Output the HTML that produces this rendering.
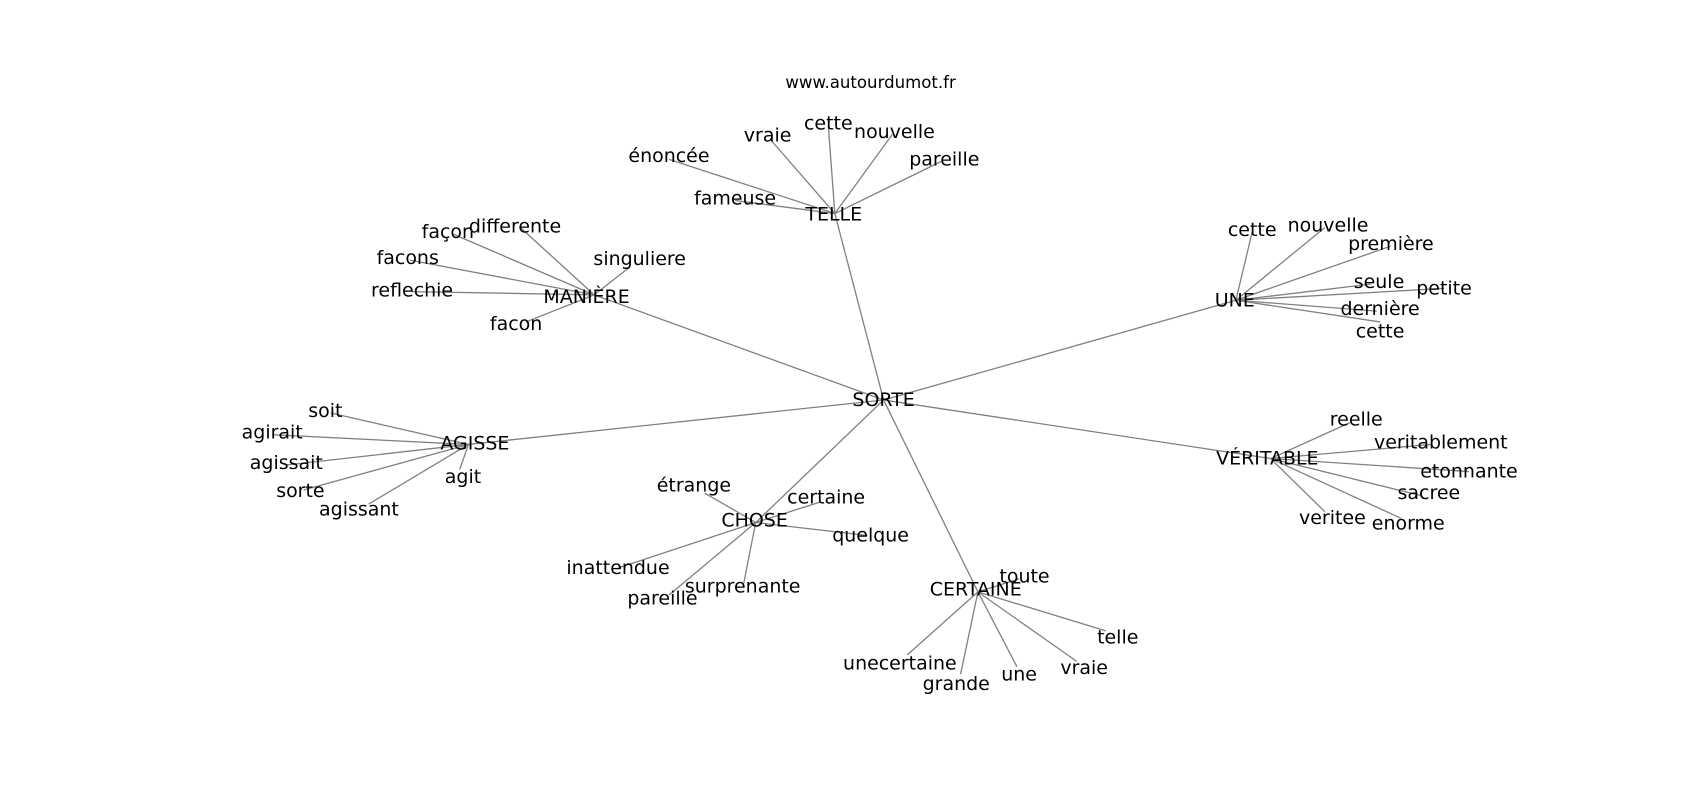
<!DOCTYPE html>
<html><head><meta charset="utf-8"><style>
html,body{margin:0;padding:0;background:#fff;}
svg{display:block}
text{font-family:"DejaVu Sans","Liberation Sans",sans-serif;font-size:17.5px;fill:#000;text-anchor:middle;dominant-baseline:central}
line{stroke:#808080;stroke-width:1.2}
</style></head><body>
<svg width="1700" height="800" viewBox="0 0 1568 738" xmlns="http://www.w3.org/2000/svg">
<text x="803" y="76" style="font-size:15.3px">www.autourdumot.fr</text>
<g>
<line x1="815" y1="369" x2="770" y2="197"/>
<line x1="815" y1="369" x2="548" y2="272"/>
<line x1="815" y1="369" x2="1140" y2="277"/>
<line x1="815" y1="369" x2="1172" y2="423"/>
<line x1="815" y1="369" x2="432" y2="410"/>
<line x1="815" y1="369" x2="697" y2="482"/>
<line x1="815" y1="369" x2="902" y2="546"/>
<line x1="770" y1="197" x2="617" y2="147"/>
<line x1="770" y1="197" x2="710" y2="128"/>
<line x1="770" y1="197" x2="764" y2="116"/>
<line x1="770" y1="197" x2="823" y2="124"/>
<line x1="770" y1="197" x2="868" y2="149"/>
<line x1="770" y1="197" x2="678" y2="185"/>
<line x1="548" y1="272" x2="480" y2="210"/>
<line x1="548" y1="272" x2="418" y2="216"/>
<line x1="548" y1="272" x2="378" y2="240"/>
<line x1="548" y1="272" x2="380" y2="269"/>
<line x1="548" y1="272" x2="580" y2="247"/>
<line x1="548" y1="272" x2="485" y2="297"/>
<line x1="1140" y1="277" x2="1155" y2="214"/>
<line x1="1140" y1="277" x2="1222" y2="210"/>
<line x1="1140" y1="277" x2="1283" y2="227"/>
<line x1="1140" y1="277" x2="1265" y2="262"/>
<line x1="1140" y1="277" x2="1332" y2="266"/>
<line x1="1140" y1="277" x2="1270" y2="287"/>
<line x1="1140" y1="277" x2="1273" y2="297"/>
<line x1="1172" y1="423" x2="1245" y2="390"/>
<line x1="1172" y1="423" x2="1320" y2="410"/>
<line x1="1172" y1="423" x2="1355" y2="435"/>
<line x1="1172" y1="423" x2="1310" y2="457"/>
<line x1="1172" y1="423" x2="1222" y2="472"/>
<line x1="1172" y1="423" x2="1292" y2="478"/>
<line x1="432" y1="410" x2="305" y2="381"/>
<line x1="432" y1="410" x2="251" y2="401"/>
<line x1="432" y1="410" x2="264" y2="429"/>
<line x1="432" y1="410" x2="280" y2="452"/>
<line x1="432" y1="410" x2="340" y2="465"/>
<line x1="432" y1="410" x2="424" y2="433"/>
<line x1="697" y1="482" x2="650" y2="455"/>
<line x1="697" y1="482" x2="757" y2="463"/>
<line x1="697" y1="482" x2="800" y2="494"/>
<line x1="697" y1="482" x2="570" y2="524"/>
<line x1="697" y1="482" x2="617" y2="549"/>
<line x1="697" y1="482" x2="686" y2="538"/>
<line x1="902" y1="546" x2="940" y2="534"/>
<line x1="902" y1="546" x2="1020" y2="582"/>
<line x1="902" y1="546" x2="993" y2="610"/>
<line x1="902" y1="546" x2="938" y2="615"/>
<line x1="902" y1="546" x2="886" y2="622"/>
<line x1="902" y1="546" x2="837" y2="604"/>
</g>
<g>
<text x="815" y="369">SORTE</text>
<text x="769" y="198">TELLE</text>
<text x="617" y="144">énoncée</text>
<text x="708" y="125">vraie</text>
<text x="764" y="114">cette</text>
<text x="825" y="122">nouvelle</text>
<text x="871" y="147">pareille</text>
<text x="678" y="183">fameuse</text>
<text x="541" y="274">MANIÈRE</text>
<text x="475" y="209">differente</text>
<text x="413" y="214">façon</text>
<text x="376" y="238">facons</text>
<text x="380" y="268">reflechie</text>
<text x="590" y="239">singuliere</text>
<text x="476" y="299">facon</text>
<text x="1139" y="277">UNE</text>
<text x="1155" y="212">cette</text>
<text x="1225" y="208">nouvelle</text>
<text x="1283" y="225">première</text>
<text x="1272" y="260">seule</text>
<text x="1332" y="266">petite</text>
<text x="1273" y="285">dernière</text>
<text x="1273" y="306">cette</text>
<text x="1169" y="423">VÉRITABLE</text>
<text x="1251" y="387">reelle</text>
<text x="1329" y="408">veritablement</text>
<text x="1355" y="435">etonnante</text>
<text x="1318" y="455">sacree</text>
<text x="1229" y="478">veritee</text>
<text x="1299" y="483">enorme</text>
<text x="438" y="409">AGISSE</text>
<text x="300" y="379">soit</text>
<text x="251" y="399">agirait</text>
<text x="264" y="427">agissait</text>
<text x="277" y="453">sorte</text>
<text x="331" y="470">agissant</text>
<text x="427" y="440">agit</text>
<text x="696" y="480">CHOSE</text>
<text x="640" y="448">étrange</text>
<text x="762" y="459">certaine</text>
<text x="803" y="494">quelque</text>
<text x="570" y="524">inattendue</text>
<text x="611" y="552">pareille</text>
<text x="685" y="541">surprenante</text>
<text x="900" y="544">CERTAINE</text>
<text x="945" y="532">toute</text>
<text x="1031" y="588">telle</text>
<text x="1000" y="616">vraie</text>
<text x="940" y="622">une</text>
<text x="882" y="631">grande</text>
<text x="830" y="612">unecertaine</text>
</g>
</svg>
</body></html>
